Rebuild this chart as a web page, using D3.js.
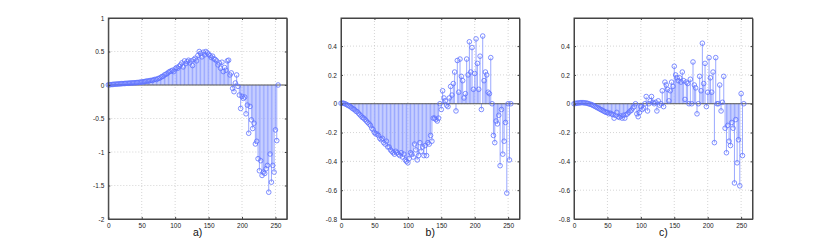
<!DOCTYPE html>
<html>
<head>
<meta charset="utf-8">
<script src="https://cdn.jsdelivr.net/npm/d3@7/dist/d3.min.js"></script>
<style>
  body { margin: 0; background: #fff; }
  svg { display: block; font-family: "Liberation Sans", Arial, sans-serif; }
</style>
</head>
<body>
<svg id="chart" width="830" height="246"></svg>
<script>
// sample positions 0,2,...,254
const xs = d3.range(128).map(i => i * 2);

const seriesA = [
  0.002,0.004,0.006,0.008,0.01,0.012,0.013,0.015,0.016,0.018,
  0.02,0.021,0.022,0.024,0.025,0.026,0.028,0.03,0.031,0.032,
  0.034,0.035,0.037,0.04,0.042,0.045,0.048,0.05,0.055,0.06,
  0.058,0.065,0.07,0.068,0.078,0.085,0.08,0.095,0.1,0.11,
  0.125,0.13,0.15,0.16,0.17,0.19,0.2,0.21,0.22,0.2,
  0.24,0.26,0.25,0.28,0.3,0.33,0.27,0.36,0.32,0.35,
  0.37,0.33,0.36,0.29,0.38,0.4,0.36,0.44,0.5,0.47,
  0.42,0.49,0.45,0.5,0.48,0.46,0.44,0.41,0.43,0.39,
  0.38,0.36,0.3,0.33,0.25,0.34,0.2,0.26,0.22,0.36,
  0.37,0.15,0.18,-0.05,-0.1,0.03,0.15,-0.02,-0.15,-0.35,
  -0.17,-0.2,-0.18,-0.43,-0.3,-0.72,-0.32,-0.52,-0.65,-0.57,
  -0.88,-0.84,-1.1,-1.28,-1.13,-1.35,-1.3,-1.32,-1.25,-1.2,
  -1.6,-1.03,-1.45,-1.2,-1.3,-0.67,-0.83,0.0
];

const seriesB = [
  0.003,0.004,0.003,0.0,-0.005,-0.01,-0.015,-0.02,-0.028,-0.035,
  -0.04,-0.05,-0.055,-0.065,-0.075,-0.085,-0.095,-0.1,-0.11,-0.12,
  -0.13,-0.14,-0.15,-0.17,-0.18,-0.2,-0.21,-0.21,-0.22,-0.24,
  -0.25,-0.24,-0.27,-0.28,-0.26,-0.3,-0.3,-0.32,-0.33,-0.34,
  -0.35,-0.33,-0.34,-0.35,-0.36,-0.34,-0.37,-0.35,-0.39,-0.4,
  -0.41,-0.38,-0.34,-0.35,-0.37,-0.28,-0.32,-0.39,-0.36,-0.27,
  -0.33,-0.3,-0.36,-0.29,-0.36,-0.27,-0.28,-0.22,-0.26,-0.1,
  -0.1,-0.11,-0.12,-0.1,0.0,-0.04,0.09,0.04,0.02,-0.01,
  -0.02,0.04,0.12,0.06,0.14,0.22,-0.05,0.3,0.08,0.31,
  0.19,0.16,0.04,0.07,0.31,0.2,0.43,0.22,0.39,0.1,
  0.21,0.45,0.28,0.1,0.33,-0.04,0.47,0.16,0.22,0.2,
  0.08,0.07,0.32,0.0,-0.22,-0.27,-0.12,-0.14,-0.08,-0.43,
  -0.04,-0.35,-0.26,-0.13,-0.62,0.0,-0.39,0.0
];

const seriesC = [
  0.0,0.002,0.004,0.005,0.006,0.007,0.008,0.007,0.006,0.005,
  0.003,0.0,-0.003,-0.006,-0.01,-0.015,-0.02,-0.025,-0.03,-0.035,
  -0.04,-0.045,-0.05,-0.055,-0.06,-0.06,-0.07,-0.065,-0.07,-0.075,
  -0.1,-0.08,-0.06,-0.09,-0.095,-0.085,-0.1,-0.08,-0.1,-0.075,
  -0.07,-0.06,-0.05,-0.045,-0.03,-0.02,0.0,-0.07,-0.09,-0.06,
  -0.02,-0.04,-0.03,0.0,0.05,-0.05,0.0,0.02,0.05,0.01,
  0.0,0.01,-0.05,0.02,-0.01,0.0,0.09,-0.02,0.15,0.13,
  0.1,0.02,0.09,0.15,0.12,0.26,0.2,0.18,0.16,0.18,
  0.15,0.22,0.16,0.03,0.15,0.14,0.0,0.17,0.0,0.29,
  0.13,0.11,-0.07,0.0,0.19,0.09,0.42,0.14,0.28,-0.02,
  0.08,0.32,0.18,0.08,0.22,-0.27,0.32,0.0,0.0,0.13,
  -0.05,0.01,0.19,-0.17,-0.34,-0.15,-0.26,-0.29,-0.13,-0.17,
  -0.55,-0.11,-0.41,-0.25,-0.57,0.07,-0.36,0.0
];

const xTicks = [0, 50, 100, 150, 200, 250];
const yTicksA = [-2, -1.5, -1, -0.5, 0, 0.5, 1];
const yTicksBC = [-0.8, -0.6, -0.4, -0.2, 0, 0.2, 0.4];
const panelLabels = ["a)", "b)", "c)"];

const svg = d3.select("#chart");
const plotTop = 18, plotBottom = 219, w = 178.5;
const lefts = [108.3, 341, 574];
const plainFmt = d => String(d);

const panels = [
  { data: seriesA, yDomain: [-2, 1], yTicks: yTicksA },
  { data: seriesB, yDomain: [-0.8, 0.595], yTicks: yTicksBC },
  { data: seriesC, yDomain: [-0.8, 0.595], yTicks: yTicksBC }
];

panels.forEach((p, k) => {
  const x = d3.scaleLinear().domain([0, 267]).range([lefts[k], lefts[k] + w]);
  const y = d3.scaleLinear().domain(p.yDomain).range([plotBottom, plotTop]);
  const g = svg.append("g");

  // dotted grid
  g.selectAll("line.gx").data(xTicks.filter(t => t > 0)).join("line")
    .attr("x1", d => x(d)).attr("x2", d => x(d))
    .attr("y1", plotTop).attr("y2", plotBottom)
    .attr("stroke", "#b8b8b8").attr("stroke-width", 0.6).attr("stroke-dasharray", "1,2");
  g.selectAll("line.gy").data(p.yTicks.filter(t => y(t) > plotTop + 1 && y(t) < plotBottom - 1)).join("line")
    .attr("x1", lefts[k]).attr("x2", lefts[k] + w)
    .attr("y1", d => y(d)).attr("y2", d => y(d))
    .attr("stroke", "#b8b8b8").attr("stroke-width", 0.6).attr("stroke-dasharray", "1,2");

  // stems
  const pts = p.data.map((v, i) => ({ x: xs[i], v }));
  g.selectAll("line.stem").data(pts).join("line")
    .attr("x1", d => x(d.x)).attr("x2", d => x(d.x))
    .attr("y1", y(0)).attr("y2", d => y(d.v))
    .attr("stroke", "#9aa8ff").attr("stroke-width", 1);

  // baseline
  g.append("line")
    .attr("x1", lefts[k]).attr("x2", lefts[k] + w)
    .attr("y1", y(0)).attr("y2", y(0))
    .attr("stroke", "#555").attr("stroke-width", 1);

  g.selectAll("circle").data(pts).join("circle")
    .attr("cx", d => x(d.x)).attr("cy", d => y(d.v)).attr("r", 2.3)
    .attr("fill", "none").attr("stroke", "#5f72ff").attr("stroke-width", 0.8);

  // axes with inward ticks
  const xAx = g.append("g").attr("transform", `translate(0,${plotBottom})`)
    .call(d3.axisBottom(x).tickValues(xTicks).tickFormat(plainFmt).tickSizeInner(-2).tickSizeOuter(0).tickPadding(4));
  const xAxTop = g.append("g").attr("transform", `translate(0,${plotTop})`)
    .call(d3.axisTop(x).tickValues(xTicks).tickSizeInner(-2).tickSizeOuter(0).tickFormat(""));
  const yAx = g.append("g").attr("transform", `translate(${lefts[k]},0)`)
    .call(d3.axisLeft(y).tickValues(p.yTicks).tickFormat(plainFmt).tickSizeInner(-2).tickSizeOuter(0).tickPadding(4));
  const yAxR = g.append("g").attr("transform", `translate(${lefts[k] + w},0)`)
    .call(d3.axisRight(y).tickValues(p.yTicks).tickSizeInner(-2).tickSizeOuter(0).tickFormat(""));
  [xAx, xAxTop, yAx, yAxR].forEach(a => {
    a.select(".domain").attr("stroke", "#444").attr("stroke-width", 1);
    a.selectAll(".tick line").attr("stroke", "#444");
    a.selectAll("text").attr("font-size", 6.5).attr("fill", "#222")
      .attr("font-family", "Liberation Sans, Arial, sans-serif");
  });
  // close the box
  g.append("rect").attr("x", lefts[k]).attr("y", plotTop).attr("width", w).attr("height", plotBottom - plotTop)
    .attr("fill", "none").attr("stroke", "#444").attr("stroke-width", 1);

  g.append("text")
    .attr("x", lefts[k] + w / 2).attr("y", 235.5)
    .attr("text-anchor", "middle").attr("font-size", 10.5).attr("fill", "#111")
    .text(panelLabels[k]);
});
</script>
</body>
</html>
